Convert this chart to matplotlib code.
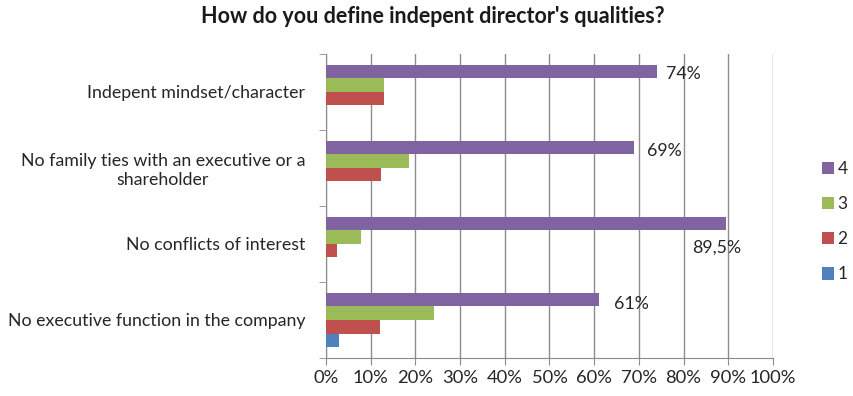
import numpy as np
import matplotlib
matplotlib.use("Agg")
import matplotlib.pyplot as plt
from matplotlib.ticker import MultipleLocator, FuncFormatter

plt.rcParams['font.family'] = ['Lato', 'DejaVu Sans']

categories = [
    "Indepent mindset/character",
    "No family ties with an executive or a\nshareholder",
    "No conflicts of interest",
    "No executive function in the company",
]
series_names = ["4", "3", "2", "1"]
score_4 = [74, 69, 89.5, 61]
score_3 = [13, 18.6, 7.8, 24.2]
score_2 = [13, 12.3, 2.5, 12]
score_1 = [0, 0, 0, 2.9]

colors = ["#8064A2", "#9BBB59", "#C0504D", "#4F81BD"]
grid_col = "#8c8c8c"
text_col = "#262626"

fig = plt.figure(figsize=(8.54, 3.96), dpi=100)
ax = fig.add_axes([0.3817, 0.096, 0.5234, 0.768])

y = np.arange(len(categories))
h = 0.178
all_series = [score_4, score_3, score_2, score_1]
for i, (vals, name, col) in enumerate(zip(all_series, series_names, colors)):
    ax.barh(y + (i - 1.5) * h, vals, height=h, color=col, label=name, zorder=3)

# labels on the "4" series, nudged the way the sheet had them
label_offsets = [(6.5, -1.8), (9.4, -2.5), (-24.5, -17.6), (10.8, -3.2)]
for yi, v, (dx, dy) in zip(y, score_4, label_offsets):
    txt = f"{v:g}".replace(".", ",") + "%"
    ax.annotate(txt, (v, yi - 1.5 * h), xytext=(dx, dy), textcoords="offset points",
                ha="left", va="center", fontsize=12.8, color=text_col)

ax.set_xlim(0, 100)
ax.set_ylim(len(categories) - 0.5, -0.5)
ax.xaxis.set_major_locator(MultipleLocator(10))
ax.xaxis.set_major_formatter(FuncFormatter(lambda v, _: f"{int(v)}%"))
ax.set_yticks(y)
ax.set_yticklabels(categories, fontsize=12.8, color=text_col)
ax.set_yticks(np.arange(-0.5, len(categories)), minor=True)
ax.tick_params(axis="y", which="major", length=0, pad=15)
ax.tick_params(axis="y", which="minor", length=5, color=grid_col, direction="out")
ax.tick_params(axis="x", length=5, color=grid_col, labelsize=13.2, labelcolor=text_col, pad=4)
for lab in ax.get_yticklabels():
    lab.set_horizontalalignment("right")
    lab.set_multialignment("center")

ax.grid(axis="x", color=grid_col, lw=1, zorder=0)
for s in ["top", "right"]:
    ax.spines[s].set_visible(False)
for s in ["left", "bottom"]:
    ax.spines[s].set_color(grid_col)

fig.suptitle("How do you define indepent director's qualities?", x=0.507, y=0.985,
             fontsize=15.5, fontweight="bold", color="#1a1a1a")

leg = fig.legend(loc="center left", bbox_to_anchor=(0.962, 0.44), frameon=False,
                 borderpad=0, borderaxespad=0,
                 handlelength=0.72, handleheight=0.72, handletextpad=0.2,
                 labelspacing=1.1, fontsize=12.5)
for t in leg.get_texts():
    t.set_color(text_col)

fig.savefig("out.png", dpi=100)
